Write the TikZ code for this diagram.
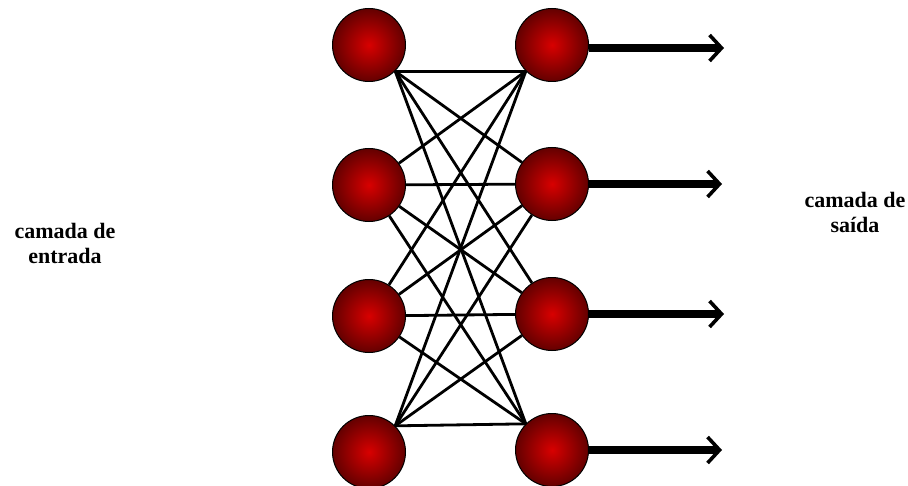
\documentclass[tikz,border=0pt]{standalone}
\usepackage{fontspec}
\setmainfont{Liberation Serif}
\usepackage{tikz}
\usetikzlibrary{arrows.meta,positioning}

\definecolor{neuroncore}{HTML}{D80000}
\definecolor{neuronrim}{HTML}{640000}

\begin{document}
\begin{tikzpicture}[x=0.5pt, y=-0.5pt,
  neuron/.style={circle, draw=black, line width=0.5pt, minimum size=36.5pt, inner sep=0pt,
    inner color=neuroncore, outer color=neuronrim},
  lbl/.style={align=center, font=\fontsize{11}{12.5}\selectfont\bfseries},
  link/.style={line width=1.4pt},
  outarr/.style={-{Straight Barb[length=6pt, width=13pt, line width=1.8pt]}, line width=3.8pt}
]
\useasboundingbox (0,0) rectangle (908,486);
% camada de entrada
\node[neuron] (l1) at (369,45) {};
\node[neuron] (l2) at (369,185) {};
\node[neuron] (l3) at (369,316) {};
\node[neuron] (l4) at (369,452) {};
% camada de saida
\node[neuron] (r1) at (552,45) {};
\node[neuron] (r2) at (552,184) {};
\node[neuron] (r3) at (552,314) {};
\node[neuron] (r4) at (552,450) {};
\coordinate (o1) at (724,48);
\coordinate (o2) at (722,184);
\coordinate (o3) at (724,314);
\coordinate (o4) at (722,450);

\node[lbl] (entrada) at (65,243) {camada de\\entrada};
\node[lbl] (saida) at (855,212) {camada de\\saída};

% ligacoes
\foreach \a in {l1.-45, l2, l3, l4.45}
  \foreach \b in {r1.-135, r2, r3, r4.135}
    \draw[link] (\a) -- (\b);

\foreach \i in {1,...,4}
  \draw[outarr] (r\i.east |- o\i) -- (o\i);
\end{tikzpicture}
\end{document}
